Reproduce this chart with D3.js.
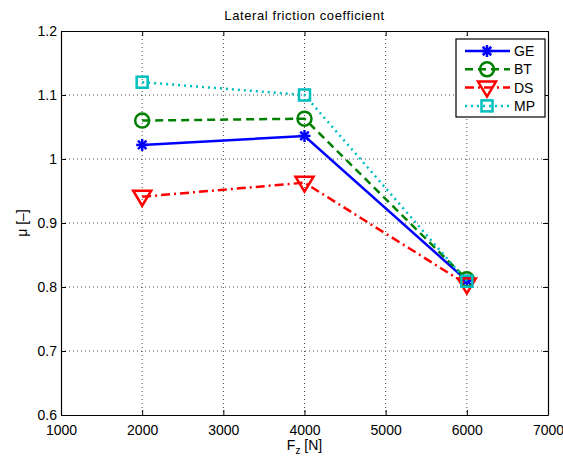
<!DOCTYPE html>
<meta charset="utf-8">
<script src="https://d3js.org/d3.v7.min.js"></script>
<style>
  body { margin: 0; background: white; }
  text { font-family: "Liberation Sans", Arial, sans-serif; fill: #000; }
</style>
<body>
<div id="chart"></div>
<script>
// data
var loads = [2000, 4000, 6000];
var seriesNames = ["GE", "BT", "DS", "MP"];
var geVals = [1.022, 1.036, 0.81];
var btVals = [1.060, 1.063, 0.812];
var dsVals = [0.941, 0.963, 0.804];
var mpVals = [1.120, 1.100, 0.809];
var xTicks = [1000, 2000, 3000, 4000, 5000, 6000, 7000];
var yTicks = [0.6, 0.7, 0.8, 0.9, 1, 1.1, 1.2];

var W = 563, H = 459;
var margin = {top: 31, right: 15, bottom: 44, left: 61},
    width = W - margin.left - margin.right,
    height = H - margin.top - margin.bottom;

var svg = d3.select("#chart").append("svg")
    .attr("width", W).attr("height", H);
var g = svg.append("g")
    .attr("transform", "translate(" + margin.left + "," + margin.top + ")");

var x = d3.scaleLinear().domain([1000, 7000]).range([0, width]);
var y = d3.scaleLinear().domain([0.6, 1.2]).range([height, 0]);

// dotted grid
g.append("g").selectAll("line")
  .data(xTicks.slice(1, -1)).enter().append("line")
    .attr("x1", d => x(d)).attr("x2", d => x(d))
    .attr("y1", 0).attr("y2", height)
    .attr("stroke", "#444").attr("stroke-dasharray", "1,3");
g.append("g").selectAll("line")
  .data(yTicks.slice(1, -1)).enter().append("line")
    .attr("x1", 0).attr("x2", width)
    .attr("y1", d => y(d)).attr("y2", d => y(d))
    .attr("stroke", "#444").attr("stroke-dasharray", "1,3");

// axes, ticks inward like matlab
var ax = g.append("g").attr("transform", "translate(0," + height + ")")
  .call(d3.axisBottom(x).tickValues(xTicks).tickSizeInner(-5).tickSizeOuter(0).tickPadding(12).tickFormat(d3.format("d")));
var ay = g.append("g")
  .call(d3.axisLeft(y).tickValues(yTicks).tickSizeInner(-5).tickSizeOuter(0).tickPadding(4).tickFormat(d => String(d)));
var at = g.append("g")
  .call(d3.axisTop(x).tickValues(xTicks).tickSizeInner(-5).tickSizeOuter(0).tickFormat(""));
var ar = g.append("g").attr("transform", "translate(" + width + ",0)")
  .call(d3.axisRight(y).tickValues(yTicks).tickSizeInner(-5).tickSizeOuter(0).tickFormat(""));
[ax, ay, at, ar].forEach(function(a) {
  a.selectAll("text").style("font-size", "14px").attr("font-family", "Liberation Sans, Arial, sans-serif");
  a.selectAll("line,path").attr("stroke", "#000");
  a.select(".domain").attr("stroke-width", 1.2);
});
ax.selectAll("text").attr("dy", "0.57em");
ay.selectAll("text").attr("dy", "0.35em");

// titles
svg.append("text")
  .attr("x", margin.left + width / 2).attr("y", 20)
  .attr("text-anchor", "middle").style("font-size", "13px")
  .style("letter-spacing", "0.6px")
  .text("Lateral friction coefficient");

var xl = svg.append("text")
  .attr("x", margin.left + width / 2).attr("y", 450)
  .attr("text-anchor", "middle").style("font-size", "14px");
xl.append("tspan").text("F");
xl.append("tspan").attr("dy", 4).style("font-size", "10px").text("z");
xl.append("tspan").attr("dy", -4).text(" [N]");

svg.append("text")
  .attr("transform", "translate(27," + (margin.top + height / 2) + ") rotate(-90)")
  .attr("text-anchor", "middle").style("font-size", "14px")
  .text("\u03bc [\u2013]");

// series styles
var styles = {
  GE: {color: "#0000ff", dash: null, marker: "star"},
  BT: {color: "#008000", dash: "8,5", marker: "circle"},
  DS: {color: "#ff0000", dash: "9,4,2,4", marker: "triangle"},
  MP: {color: "#00bfbf", dash: "2,4", marker: "square"}
};
var allVals = {GE: geVals, BT: btVals, DS: dsVals, MP: mpVals};

function drawMarker(sel, type, color, cx, cy) {
  if (type === "star") {
    var r = 6;
    [0, 45, 90, 135].forEach(function(a) {
      var rad = a * Math.PI / 180;
      sel.append("line")
        .attr("x1", cx - r * Math.cos(rad)).attr("y1", cy - r * Math.sin(rad))
        .attr("x2", cx + r * Math.cos(rad)).attr("y2", cy + r * Math.sin(rad))
        .attr("stroke", color).attr("stroke-width", 2.5);
    });
  } else if (type === "circle") {
    sel.append("circle").attr("cx", cx).attr("cy", cy).attr("r", 7)
      .attr("fill", "none").attr("stroke", color).attr("stroke-width", 2.5);
  } else if (type === "triangle") {
    sel.append("path")
      .attr("d", "M" + (cx - 9) + "," + (cy - 6) + "L" + (cx + 9) + "," + (cy - 6) + "L" + cx + "," + (cy + 9) + "Z")
      .attr("fill", "none").attr("stroke", color).attr("stroke-width", 2.5);
  } else {
    sel.append("rect").attr("x", cx - 5.5).attr("y", cy - 5.5)
      .attr("width", 11).attr("height", 11)
      .attr("fill", "none").attr("stroke", color).attr("stroke-width", 2.5);
  }
}

var line = d3.line().x(d => x(d[0])).y(d => y(d[1]));

seriesNames.forEach(function(name) {
  var st = styles[name];
  var pts = loads.map((l, i) => [l, allVals[name][i]]);
  var sg = g.append("g");
  sg.append("path").datum(pts)
    .attr("d", line).attr("fill", "none")
    .attr("stroke", st.color).attr("stroke-width", 2.5)
    .attr("stroke-dasharray", st.dash);
  pts.forEach(function(p) { drawMarker(sg, st.marker, st.color, x(p[0]), y(p[1])); });
});

// legend
var lg = svg.append("g").attr("transform", "translate(456,39)");
lg.append("rect").attr("width", 89).attr("height", 78)
  .attr("fill", "white").attr("stroke", "#000").attr("stroke-width", 1.2);
seriesNames.forEach(function(name, i) {
  var st = styles[name];
  var ly = 12 + i * 18.3;
  lg.append("line").attr("x1", 9).attr("x2", 54).attr("y1", ly).attr("y2", ly)
    .attr("stroke", st.color).attr("stroke-width", 2.5).attr("stroke-dasharray", st.dash);
  drawMarker(lg, st.marker, st.color, 31, ly);
  lg.append("text").attr("x", 58).attr("y", ly).attr("dy", "0.36em")
    .style("font-size", "14px").text(name);
});
</script>
</body>
